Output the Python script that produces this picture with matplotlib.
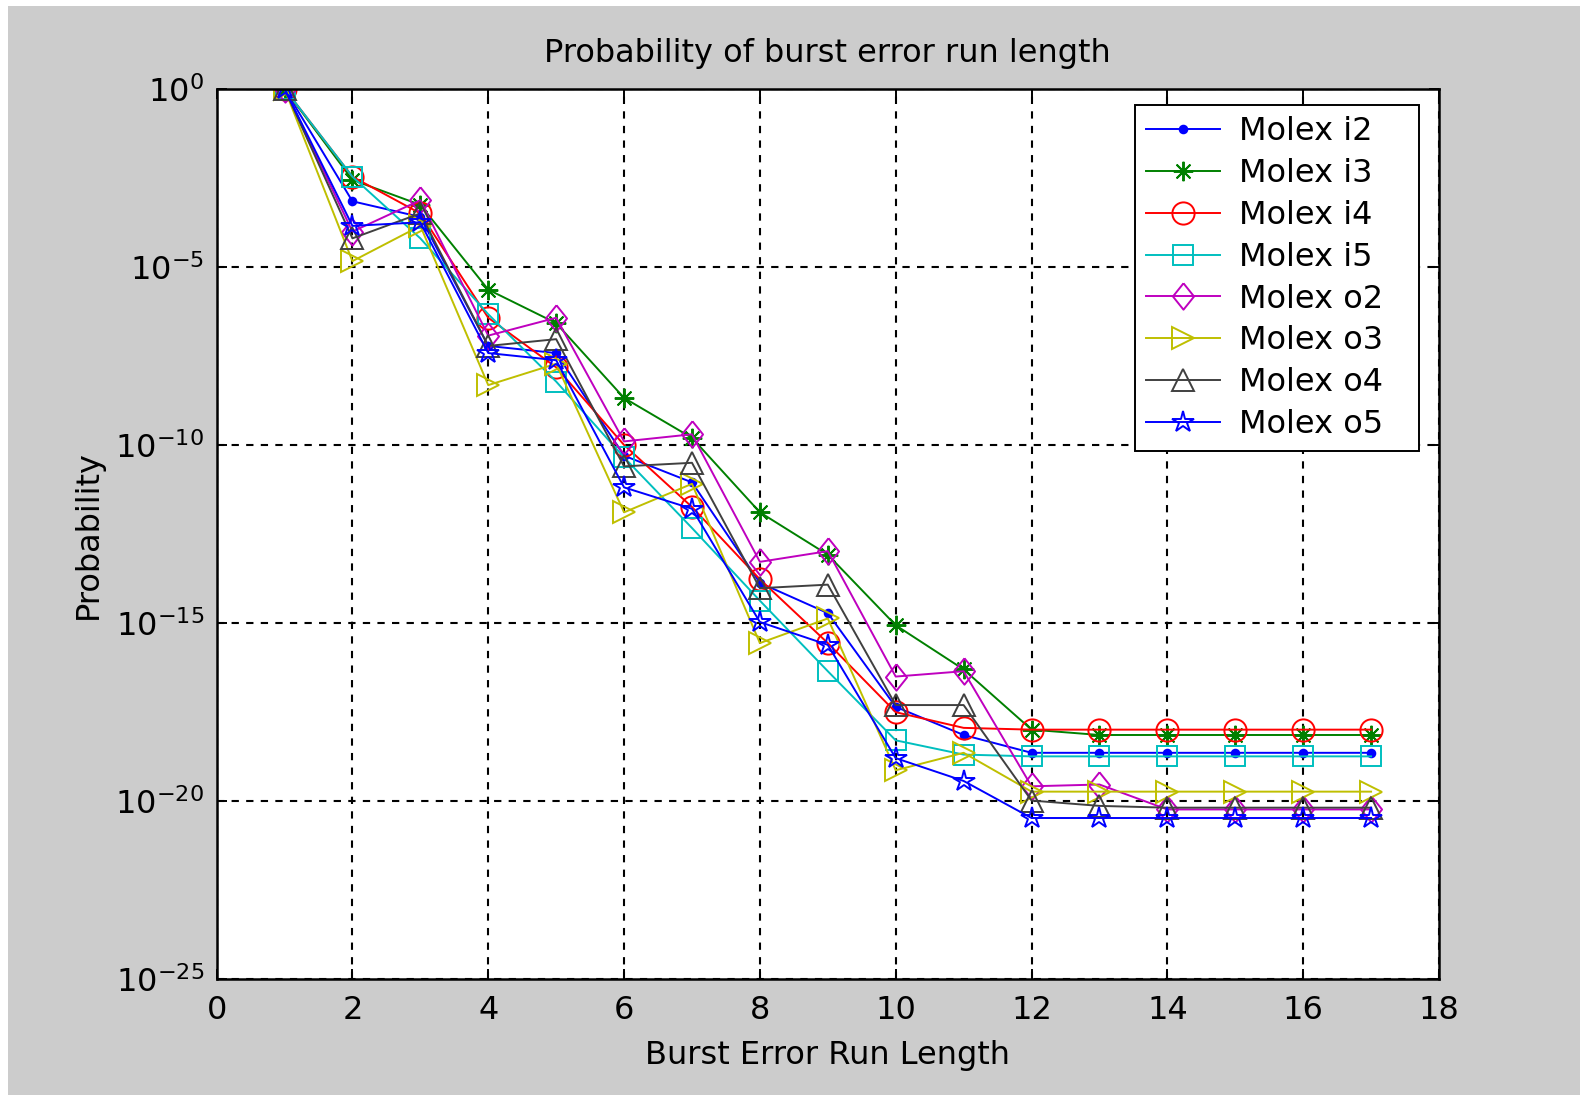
import numpy as np
import matplotlib
matplotlib.use("Agg")
import matplotlib.pyplot as plt
from matplotlib.patches import Rectangle

plt.rcParams["font.family"] = ["DejaVu Sans"]
plt.rcParams["mathtext.default"] = "regular"
plt.rcParams["axes.unicode_minus"] = False

# Burst error run length (x axis)
run_length = np.arange(1, 18)

# log10 of probability for each connector
molex_i2 = [0, -3.16, -3.60, -7.22, -7.42, -10.30, -11.05, -13.87, -14.72, -17.35, -18.14, -18.64, -18.64, -18.64, -18.64, -18.64, -18.64]
molex_i3 = [0, -2.56, -3.26, -5.64, -6.58, -8.68, -9.80, -11.89, -13.08, -15.06, -16.30, -17.99, -18.14, -18.14, -18.14, -18.14, -18.14]
molex_i4 = [0, -2.47, -3.50, -6.43, -7.82, -10.00, -11.74, -13.77, -15.56, -17.50, -17.94, -17.99, -17.99, -17.99, -17.99, -17.99, -17.99]
molex_i5 = [0, -2.47, -4.20, -6.33, -8.22, -10.35, -12.33, -14.37, -16.35, -18.29, -18.69, -18.74, -18.74, -18.74, -18.74, -18.74, -18.74]
molex_o2 = [0, -4.01, -3.13, -6.93, -6.43, -9.90, -9.70, -13.28, -12.98, -16.50, -16.35, -19.58, -19.53, -20.23, -20.23, -20.23, -20.23]
molex_o3 = [0, -4.84, -3.85, -8.32, -7.72, -11.89, -11.09, -15.56, -14.87, -19.13, -18.64, -19.73, -19.73, -19.73, -19.73, -19.73, -19.73]
molex_o4 = [0, -4.20, -3.50, -7.22, -7.03, -10.60, -10.50, -14.02, -13.92, -17.30, -17.30, -19.98, -20.13, -20.18, -20.18, -20.18, -20.18]
molex_o5 = [0, -3.85, -3.75, -7.42, -7.62, -11.19, -11.79, -14.97, -15.61, -18.79, -19.43, -20.47, -20.47, -20.47, -20.47, -20.47, -20.47]

labels = ["Molex i2", "Molex i3", "Molex i4", "Molex i5",
          "Molex o2", "Molex o3", "Molex o4", "Molex o5"]
series = [molex_i2, molex_i3, molex_i4, molex_i5,
          molex_o2, molex_o3, molex_o4, molex_o5]

# MATLAB-like colours and markers
colors = ["#0000ff", "#008000", "#ff0000", "#00bfbf",
          "#bf00bf", "#bfbf00", "#404040", "#0000ff"]
diamond = [(0, 1), (0.8, 0), (0, -1), (-0.8, 0), (0, 1)]
markers = [".", (8, 2, 0), "o", "s", diamond, ">", "^", "*"]
msizes = [11, 14, 16, 15, 19, 16, 16, 16]

W, H = 1580, 1095
fig = plt.figure(figsize=(W / 100, H / 100), dpi=100, facecolor="white")
# grey MATLAB figure panel (small white strip at top/left like the screenshot)
fig.patches.append(Rectangle((8 / W, 0), 1, 1 - 6 / H,
                             transform=fig.transFigure, facecolor="#cccccc",
                             edgecolor="none", zorder=-10))

ax_l, ax_r, ax_t, ax_b = 216.6, 1439, 88.7, 979.4
ax = fig.add_axes([ax_l / W, 1 - ax_b / H, (ax_r - ax_l) / W, (ax_b - ax_t) / H])
ax.set_facecolor("white")

for vals, lab, col, mk, ms in zip(series, labels, colors, markers, msizes):
    ax.semilogy(run_length, 10.0 ** np.array(vals), color=col, marker=mk,
                markersize=ms, markerfacecolor=col if mk == "." else "none",
                markeredgecolor=col, markeredgewidth=1.4, linewidth=1.4,
                label=lab)

ax.set_xlim(0, 18)
ax.set_ylim(1e-25, 1e0)
ax.set_xticks(np.arange(0, 19, 2))
ax.set_yticks([10.0 ** e for e in range(-25, 1, 5)])
ax.minorticks_off()
ax.grid(True, color="black", linestyle=(0, (3.5, 3.5)), linewidth=1.5)

ax.tick_params(direction="in", which="both", top=True, right=True,
               length=7, width=1.4, labelsize=23)
ax.tick_params(axis="x", pad=11)
ax.tick_params(axis="y", pad=9)
for sp in ax.spines.values():
    sp.set_linewidth(1.8)

ax.set_title("Probability of burst error run length", fontsize=23, pad=19)
ax.set_xlabel("Burst Error Run Length", fontsize=23, labelpad=10)
ax.set_ylabel("Probability", fontsize=23, labelpad=8)

# legend box stretched to MATLAB-like width
ax_w, ax_h = ax_r - ax_l, ax_b - ax_t
lx0 = (1135 - ax_l) / ax_w
lx1 = (1419 - ax_l) / ax_w
ly1 = (ax_b - 105) / ax_h
leg = ax.legend(loc="upper left", bbox_to_anchor=(lx0, 0.4, lx1 - lx0, ly1 - 0.4),
                mode="expand", borderaxespad=0, fontsize=23, fancybox=False,
                framealpha=1, edgecolor="black", handlelength=2.3,
                labelspacing=0.34, borderpad=0.35, handletextpad=0.6)
leg.get_frame().set_linewidth(1.4)

fig.savefig("out.png", dpi=100, facecolor=fig.get_facecolor())
